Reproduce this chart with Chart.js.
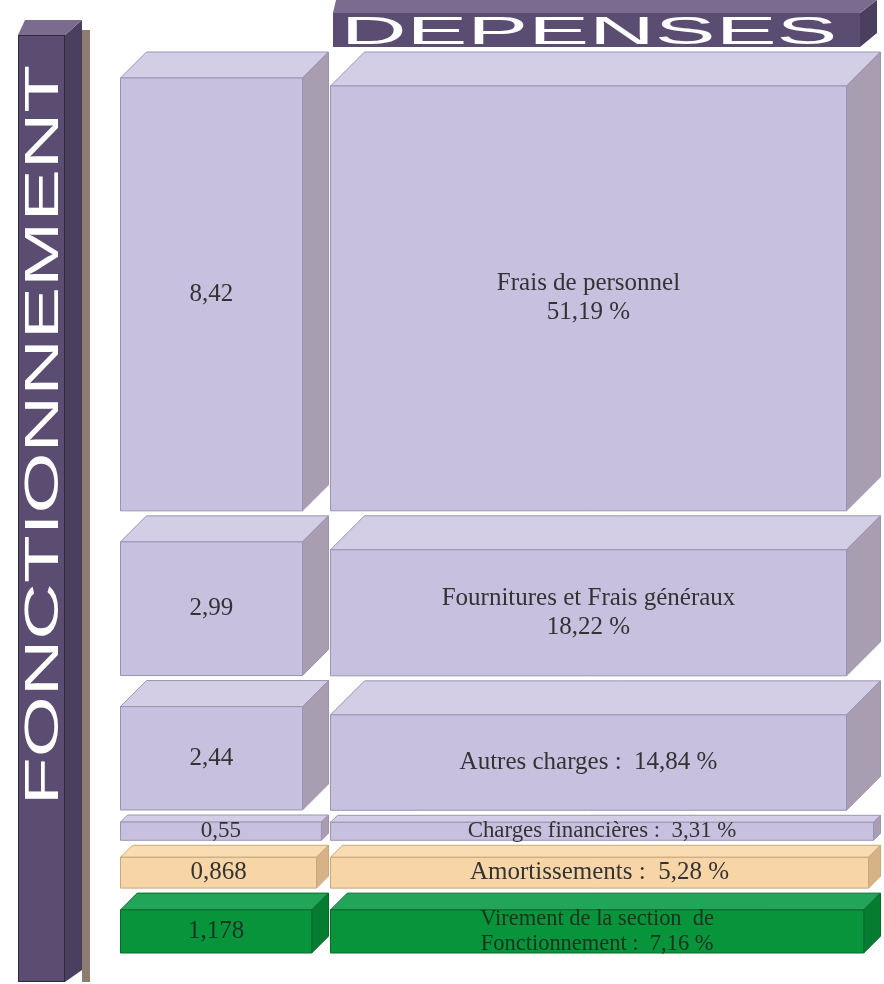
<!DOCTYPE html>
<html><head><meta charset="utf-8">
<script src="https://cdn.jsdelivr.net/npm/chart.js@4.4.1/dist/chart.umd.min.js"></script>
<style>
html,body{margin:0;padding:0;background:#fff;}
#wrap{position:relative;width:884px;height:984px;overflow:hidden;background:#fff;}
#c{position:absolute;left:0;top:0;}
.abs{position:absolute;}
#pShadow{left:82px;top:30px;width:8px;height:952px;background:#8d7c70;}
#pTop{left:18px;top:20px;width:64px;height:15px;background:#7b6c8f;clip-path:polygon(0 15px,7px 0,64px 0,47px 15px);}
#pSide{left:65px;top:20px;width:17px;height:962px;background:#4b3f60;clip-path:polygon(0 15px,17px 0,17px 950px,0 962px);}
#pFront{left:18px;top:35px;width:47px;height:947px;background:#5b4d71;box-sizing:border-box;border:1px solid #2f2b3a;}
#pText{left:41px;top:435px;font-family:"Liberation Sans",Arial,sans-serif;font-size:49px;line-height:1;color:#fff;white-space:nowrap;transform:translate(-50%,-50%) rotate(-90deg) scaleX(1.6);}
#bTop{left:333px;top:0;width:544px;height:13px;background:#7b6c8f;clip-path:polygon(0 13px,3px 0,544px 0,527px 13px);}
#bSide{left:860px;top:0;width:17px;height:47px;background:#4b3f60;clip-path:polygon(0 13px,17px 0,17px 33px,0 47px);}
#bFront{left:333px;top:13px;width:527px;height:34px;background:#5b4d71;}
#bText{left:589px;top:31px;font-family:"Liberation Sans",Arial,sans-serif;font-size:38px;line-height:1;color:#fff;white-space:nowrap;transform:translate(-50%,-50%) scaleX(2.4);}
</style></head><body>
<div id="wrap">
<canvas id="c" width="884" height="984"></canvas>
<div class="abs" id="pShadow"></div>
<div class="abs" id="pSide"></div>
<div class="abs" id="pTop"></div>
<div class="abs" id="pFront"></div>
<div class="abs" id="pText"></div>
<div class="abs" id="bSide"></div>
<div class="abs" id="bTop"></div>
<div class="abs" id="bFront"></div>
<div class="abs" id="bText"></div>
</div>
<script>
// ---- data ----
const sectionTitle = 'FONCTIONNEMENT';
const chartTitle = 'DEPENSES';
const columns = ['Montant', 'Part'];
const categories = [
  'Frais de personnel',
  'Fournitures et Frais généraux',
  'Autres charges',
  'Charges financières',
  'Amortissements',
  'Virement de la section  de\nFonctionnement'
];
const amounts = [8.42, 2.99, 2.44, 0.55, 0.868, 1.178];
const percents = [51.19, 18.22, 14.84, 3.31, 5.28, 7.16];
const groups = ['reel', 'reel', 'reel', 'reel', 'amort', 'virement'];

// ---- styles ----
const palette = {
  reel:     {front:'#c7c0df', top:'#d3cee6', side:'#a99db2', stroke:'#9a94b4', text:'#333333'},
  amort:    {front:'#f8d5a6', top:'#fadcb3', side:'#d8b287', stroke:'#c8a77c', text:'#333333'},
  virement: {front:'#08943a', top:'#22a558', side:'#067c30', stroke:'#0a6a2c', text:'#1b3320'}
};
const GAP = 5;

document.getElementById('pText').textContent = sectionTitle;
document.getElementById('bText').textContent = chartTitle;

const fmtNum = v => String(v).replace('.', ',');
const fmtPct = p => p.toFixed(2).replace('.', ',') + ' %';
const totalAmount = amounts.reduce((a, b) => a + b, 0);

const datasets = [];
categories.forEach((cat, i) => {
  datasets.push({label: cat + ' (montant)', row: i, col: 0, data: [amounts[i], null],
    yAxisID: 'yAmt', grouped: false, categoryPercentage: 1, barPercentage: 0.546,
    backgroundColor: 'rgba(0,0,0,0)', borderWidth: 0});
  datasets.push({label: cat + ' (%)', row: i, col: 1, data: [null, percents[i]],
    yAxisID: 'yPct', grouped: false, categoryPercentage: 1, barPercentage: 1.4436,
    backgroundColor: 'rgba(0,0,0,0)', borderWidth: 0});
});

function poly(ctx, pts, fill, stroke) {
  ctx.beginPath();
  ctx.moveTo(pts[0][0], pts[0][1]);
  for (let k = 1; k < pts.length; k++) ctx.lineTo(pts[k][0], pts[k][1]);
  ctx.closePath();
  ctx.fillStyle = fill; ctx.fill();
  ctx.strokeStyle = stroke; ctx.lineWidth = 1; ctx.stroke();
}

const blocks3d = {
  id: 'blocks3d',
  afterDatasetsDraw(chart) {
    const ctx = chart.ctx;
    ctx.save();
    chart.data.datasets.forEach((ds, i) => {
      const meta = chart.getDatasetMeta(i);
      meta.data.forEach((el, j) => {
        const v = ds.data[j];
        if (v === null || v === undefined) return;
        const p = el.getProps(['x', 'y', 'base', 'width'], true);
        const left = p.x - p.width / 2, right = p.x + p.width / 2;
        const top = Math.min(p.y, p.base), bottom = Math.max(p.y, p.base) - GAP;
        const h = bottom - top;
        const d = Math.max(7, Math.min(34, h * 0.28, p.width * 0.125));
        const pal = palette[groups[ds.row]];
        // top face
        poly(ctx, [[left, top + d], [left + d, top], [right, top], [right - d, top + d]], pal.top, pal.stroke);
        // side face
        poly(ctx, [[right - d, top + d], [right, top], [right, bottom - d], [right - d, bottom]], pal.side, pal.stroke);
        // front face
        poly(ctx, [[left, top + d], [right - d, top + d], [right - d, bottom], [left, bottom]], pal.front, pal.stroke);
        // labels
        const frontH = bottom - (top + d);
        let lines;
        if (ds.col === 0) {
          lines = [fmtNum(amounts[ds.row])];
        } else {
          lines = categories[ds.row].split('\n');
          if (lines.length === 1 && frontH > 120) {
            lines.push(fmtPct(percents[ds.row]));
          } else {
            lines[lines.length - 1] += ' :  ' + fmtPct(percents[ds.row]);
          }
        }
        const lh = Math.min(29, (frontH + 8) / lines.length);
        const fs = Math.min(25, lh * 0.88);
        ctx.font = fs + 'px "Liberation Serif", "Times New Roman", serif';
        ctx.fillStyle = pal.text;
        ctx.textAlign = 'center';
        ctx.textBaseline = 'middle';
        const cx = (left + right - d) / 2;
        const cy = (top + d + bottom) / 2;
        lines.forEach((t, k) => {
          ctx.fillText(t, cx, cy + (k - (lines.length - 1) / 2) * lh);
        });
      });
    });
    ctx.restore();
  }
};

new Chart(document.getElementById('c'), {
  type: 'bar',
  data: {labels: columns, datasets},
  options: {
    responsive: false,
    animation: false,
    devicePixelRatio: 1,
    layout: {padding: {left: 34, right: 88, top: 52, bottom: 26}},
    plugins: {legend: {display: false}, tooltip: {enabled: false}, title: {display: false}},
    scales: {
      x: {display: false, stacked: true, offset: true},
      yAmt: {display: false, stacked: true, reverse: true, min: 0, max: totalAmount},
      yPct: {display: false, stacked: true, reverse: true, min: 0, max: 100}
    }
  },
  plugins: [blocks3d]
});
</script>
</body></html>
